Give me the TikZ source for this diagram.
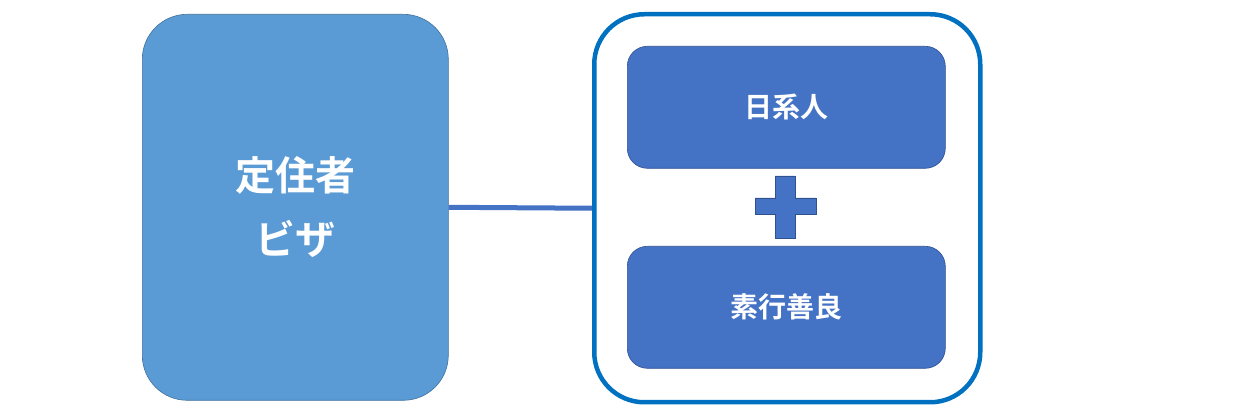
\documentclass[tikz,border=0pt]{standalone}
\usepackage{fontspec}
\newfontfamily\cjk{Noto Sans CJK JP}[BoldFont={Noto Sans CJK JP Bold}]
\definecolor{lb}{HTML}{5B9BD5}
\definecolor{lbd}{HTML}{41719C}
\definecolor{db}{HTML}{4472C4}
\definecolor{dbd}{HTML}{2F528F}
\definecolor{ob}{HTML}{0070C0}
\begin{document}
\begin{tikzpicture}[x=1pt,y=-1pt,
  inner/.style={draw=dbd,line width=0.6pt,fill=db,rounded corners=20pt},
  lbl/.style={text=white,font=\cjk\bfseries}]
\useasboundingbox (0,0) rectangle (1254,419);
\node[draw=lbd,line width=0.6pt,fill=lb,rounded corners=45pt,minimum width=306pt,minimum height=386pt,anchor=north west,
  lbl,font=\cjk\bfseries\fontsize{40}{64}\selectfont,align=center] (visa) at (142,14) {定住者\\ビザ};
\node[draw=ob,line width=4.5pt,fill=white,rounded corners=50pt,minimum width=386pt,minimum height=388pt,anchor=north west] (grp) at (592,12) {};
\draw[db,line width=5pt] (visa.east) -- (grp.west);
\node[inner,minimum width=318pt,minimum height=122pt,anchor=north west,lbl,font=\cjk\bfseries\fontsize{28}{34}\selectfont] (a) at (627,46) {日系人};
\node[inner,minimum width=318pt,minimum height=122pt,anchor=north west,lbl,font=\cjk\bfseries\fontsize{28}{34}\selectfont] (b) at (627,246) {素行善良};
\draw[dbd,line width=0.6pt,fill=db] (775,176) -- (795,176) -- (795,198) -- (816,198) -- (816,214) -- (795,214) -- (795,238) -- (775,238) -- (775,214) -- (755,214) -- (755,198) -- (775,198) -- cycle;
\end{tikzpicture}
\end{document}
